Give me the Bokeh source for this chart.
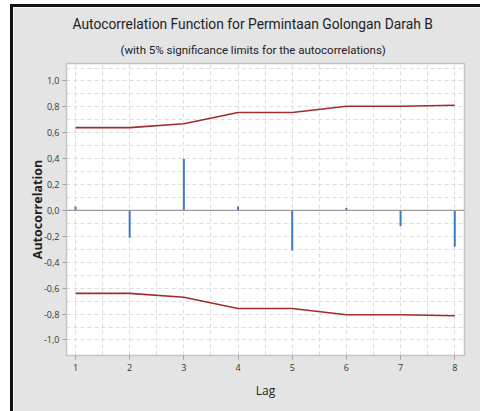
from bokeh.plotting import figure
from bokeh.layouts import column
from bokeh.models import Range1d, FixedTicker, Span, ColumnDataSource, Title
from bokeh.embed import file_html
from bokeh.resources import INLINE

# ---- data ----
lags = [1, 2, 3, 4, 5, 6, 7, 8]
acf = [0.03, -0.21, 0.40, 0.03, -0.31, 0.02, -0.12, -0.28]
upper_limit = [0.64, 0.64, 0.67, 0.757, 0.757, 0.805, 0.805, 0.813]
lower_limit = [-0.64, -0.64, -0.67, -0.757, -0.757, -0.805, -0.805, -0.813]
y_tick_values = [-1.0, -0.8, -0.6, -0.4, -0.2, 0.0, 0.2, 0.4, 0.6, 0.8, 1.0]
y_tick_labels = ["-1,0", "-0,8", "-0,6", "-0,4", "-0,2", "0,0", "0,2", "0,4", "0,6", "0,8", "1,0"]
x_tick_values = [1, 2, 3, 4, 5, 6, 7, 8]
title_text = "Autocorrelation Function for Permintaan Golongan Darah B"
subtitle_text = "(with 5% significance limits for the autocorrelations)"

BG = "#e4e4e4"
FONT = "Open Sans"
TFONT = "Roboto"

p = figure(width=471, height=408, output_backend="svg", toolbar_location=None,
           x_range=Range1d(0.834, 8.18), y_range=Range1d(-1.12, 1.135),
           min_border_left=53, min_border_right=20, min_border_top=56, min_border_bottom=60)
p.title = None
p.background_fill_color = "white"
p.border_fill_color = BG
p.outline_line_color = "#c4c4c4"
p.outline_line_width = 1.5

# grids
p.xaxis.ticker = FixedTicker(ticks=x_tick_values,
                             minor_ticks=[v + 0.5 for v in x_tick_values])
p.yaxis.ticker = FixedTicker(ticks=y_tick_values,
                             minor_ticks=[round(v + 0.1, 1) for v in y_tick_values])
p.yaxis.major_label_overrides = {v: s for v, s in zip(y_tick_values, y_tick_labels)}
for g in (p.xgrid, p.ygrid):
    g.grid_line_color = "#dcdcdc"
    g.grid_line_dash = "4 3"
    g.grid_line_width = 1
    g.minor_grid_line_color = "#dcdcdc"
    g.minor_grid_line_dash = "4 3"
    g.minor_grid_line_width = 1

for ax in (p.xaxis, p.yaxis):
    ax.axis_line_color = "#c4c4c4"
    ax.major_tick_line_color = "#a0a0a0"
    ax.major_tick_out = 4
    ax.major_tick_in = 0
    ax.minor_tick_line_color = None
    ax.major_label_text_font = FONT
    ax.major_label_text_font_size = "9px"
    ax.major_label_text_color = "#333333"
    ax.axis_label_text_font = FONT
    ax.axis_label_text_color = "#222222"
    ax.axis_label_text_font_style = "normal"

p.xaxis.axis_label = "Lag"
p.xaxis.axis_label_text_font_size = "12px"
p.xaxis.major_label_standoff = 4
p.xaxis.axis_label_standoff = 8
p.yaxis.axis_label = "Autocorrelation"
p.yaxis.axis_label_text_font_size = "12.5px"
p.yaxis.axis_label_text_font_style = "bold"
p.yaxis.major_label_standoff = 3
p.yaxis.axis_label_standoff = -5

# zero line
p.add_layout(Span(location=0, dimension="width", line_color="#9a9a9a", line_width=1.2))

src = ColumnDataSource(dict(lag=lags, acf=acf, zero=[0] * len(lags),
                            up=upper_limit, lo=lower_limit))
p.segment(x0="lag", y0="zero", x1="lag", y1="acf", source=src,
          line_color="#3a7bc8", line_width=2)
p.line("lag", "up", source=src, line_color="#a02c2c", line_width=1.6)
p.line("lag", "lo", source=src, line_color="#a02c2c", line_width=1.6)

# titles (first added sits closest to the plot)
p.add_layout(Title(text=subtitle_text, text_font=TFONT, text_font_size="11.5px",
                   text_color="#222222", text_font_style="normal", align="left",
                   standoff=14, offset=54), "above")
p.add_layout(Title(text=title_text, text_font=TFONT, text_font_size="13.8px",
                   text_color="#222222", text_font_style="normal", align="left",
                   standoff=3, offset=6), "above")

layout = column(p, margin=(4, 0, 0, 10),
                styles={"border-top": "3px solid #111111", "border-left": "3px solid #111111",
                        "overflow": "hidden"})

html = file_html(layout, INLINE)
html = html.replace("<head>", "<head><style>html,body{margin:0;overflow:hidden;}</style>", 1)
open("out.html", "w").write(html)
